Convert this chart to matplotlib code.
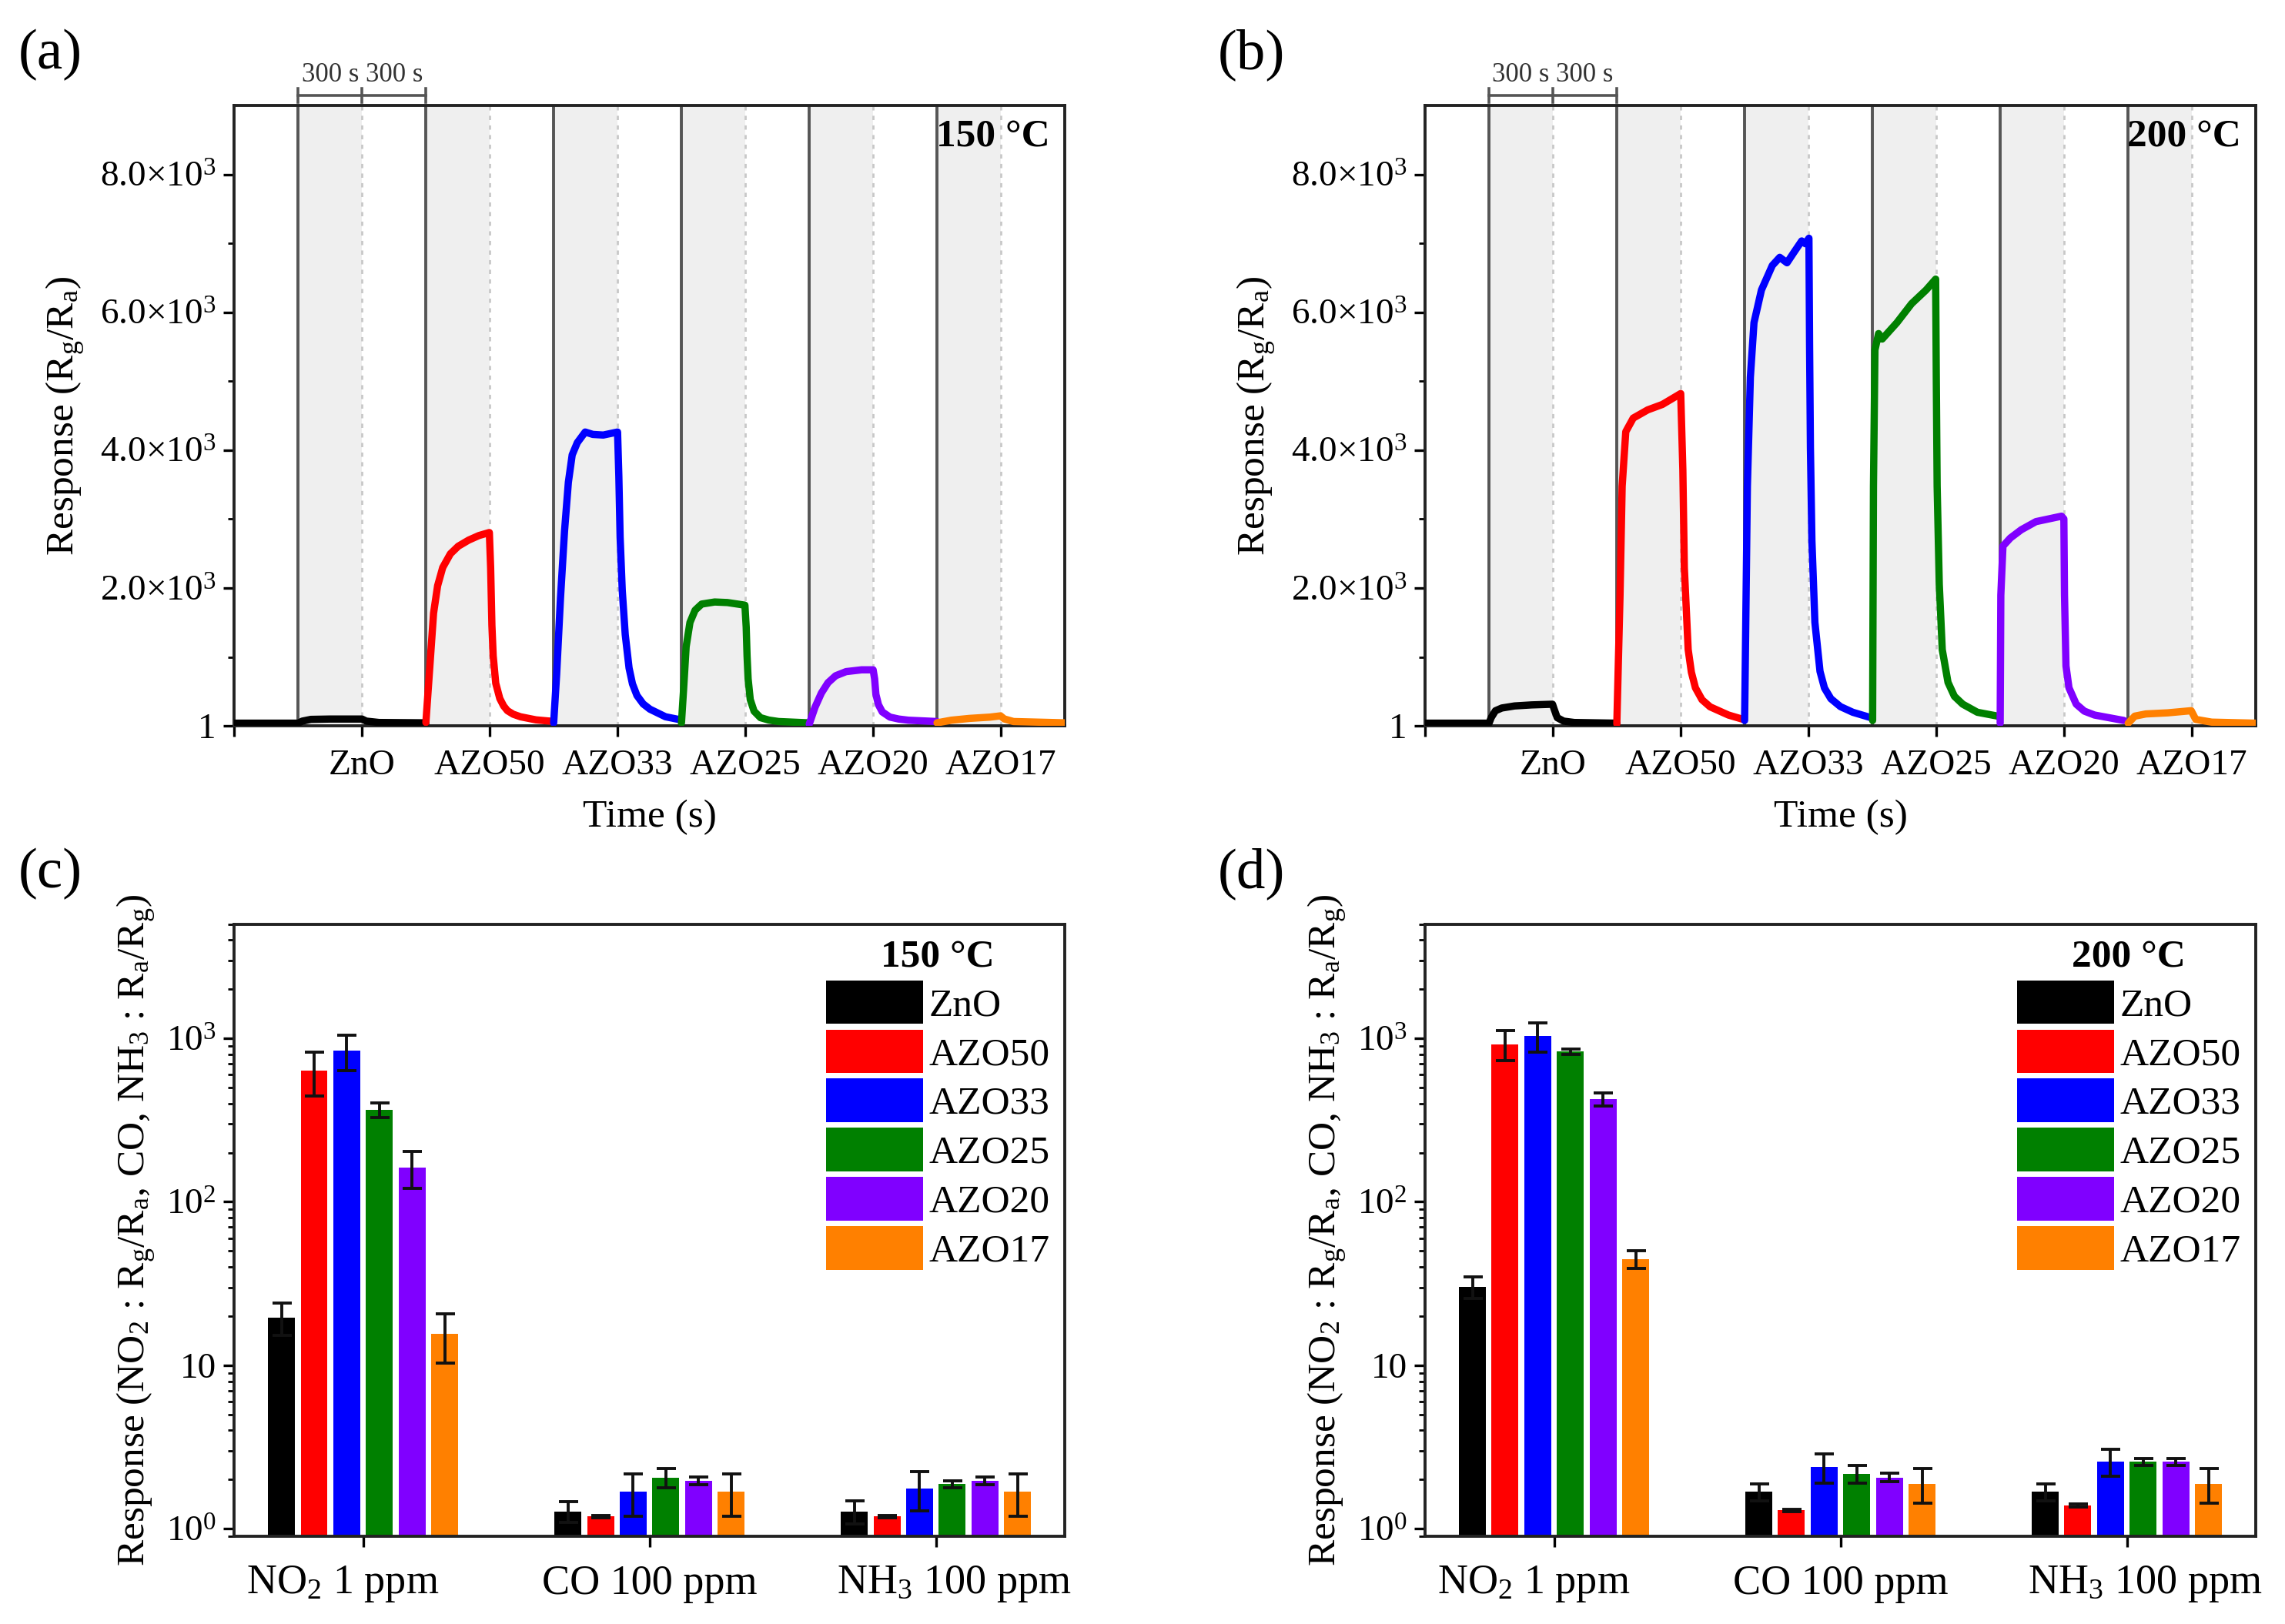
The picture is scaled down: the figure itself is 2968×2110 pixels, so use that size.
import math

import matplotlib
matplotlib.use("Agg")
import matplotlib.pyplot as plt
from matplotlib.ticker import FixedLocator, FuncFormatter, LogLocator, NullFormatter
from matplotlib.patches import Patch
from matplotlib.transforms import ScaledTranslation

plt.rcParams["font.family"] = ["Liberation Serif", "DejaVu Serif"]
plt.rcParams["mathtext.fontset"] = "custom"
plt.rcParams["mathtext.rm"] = "Liberation Serif"
plt.rcParams["mathtext.it"] = "Liberation Serif:italic"
plt.rcParams["mathtext.bf"] = "Liberation Serif:bold"

# ── data ──────────────────────────────────────────────────────────────────────
samples = ["ZnO", "AZO50", "AZO33", "AZO25", "AZO20", "AZO17"]
colors = ["#000000", "#ff0000", "#0000ff", "#008000", "#8000ff", "#ff8000"]
gases = [r"NO$_2$ 1 ppm", "CO 100 ppm", r"NH$_3$ 100 ppm"]
temps = ["150 °C", "200 °C"]

# dynamic response (time [s], Rg/Ra), 150 °C
curves_150 = {
    "ZnO": ([0, 300, 320, 360, 450, 600, 620, 680, 900],
            [40, 40, 70, 95, 100, 100, 70, 50, 45]),
    "AZO50": ([900, 918, 936, 955, 979, 1015, 1052, 1101, 1149, 1198, 1204, 1210,
               1216, 1228, 1247, 1265, 1283, 1310, 1344, 1417, 1496],
              [50, 840, 1635, 2033, 2298, 2497, 2607, 2696, 2762, 2806, 2298, 1458,
               1016, 619, 398, 290, 221, 170, 133, 88, 66]),
    "AZO33": ([1500, 1514, 1532, 1551, 1569, 1587, 1611, 1648, 1684, 1733, 1800, 1806,
               1812, 1822, 1836, 1854, 1870, 1891, 1920, 1952, 2025, 2097],
              [44, 751, 1856, 2828, 3535, 3933, 4110, 4264, 4229, 4220, 4264, 3624,
               2740, 1966, 1326, 840, 610, 442, 320, 243, 133, 88]),
    "AZO25": ([2100, 2110, 2122, 2140, 2164, 2195, 2256, 2316, 2398, 2404, 2408, 2413,
               2423, 2441, 2471, 2510, 2556, 2696],
              [44, 530, 1149, 1502, 1679, 1768, 1798, 1790, 1752, 1433, 1020, 683,
               383, 214, 120, 85, 64, 45]),
    "AZO20": ([2700, 2727, 2757, 2788, 2824, 2873, 2946, 3000, 3007, 3013, 3025, 3043,
               3079, 3120, 3165, 3299],
              [26, 270, 477, 627, 728, 788, 814, 814, 683, 458, 308, 203, 128, 100,
               83, 64]),
    "AZO17": ([3300, 3367, 3452, 3549, 3598, 3616, 3659, 3900],
              [45, 83, 109, 128, 146, 101, 64, 45]),
}

# dynamic response, 200 °C
curves_200 = {
    "ZnO": ([0, 300, 310, 330, 360, 420, 500, 598, 605, 620, 650, 700, 900],
            [40, 40, 120, 220, 260, 290, 305, 315, 250, 120, 70, 50, 40]),
    "AZO50": ([900, 915, 925, 942, 977, 1045, 1114, 1200, 1210, 1217, 1235, 1250,
               1269, 1300, 1338, 1424, 1493],
              [30, 1897, 3478, 4269, 4466, 4585, 4664, 4822, 3715, 2292, 1107, 780,
               553, 380, 277, 158, 95]),
    "AZO33": ([1500, 1513, 1527, 1544, 1579, 1630, 1665, 1699, 1733, 1768, 1785, 1802,
               1805, 1809, 1816, 1830, 1854, 1875, 1905, 1950, 2008, 2094],
              [79, 3478, 5059, 5850, 6324, 6680, 6798, 6719, 6877, 7036, 6996, 7075,
               5534, 4032, 2688, 1502, 791, 550, 395, 280, 198, 119]),
    "AZO25": ([2101, 2105, 2112, 2129, 2146, 2215, 2284, 2352, 2397, 2400, 2404, 2414,
               2428, 2455, 2485, 2524, 2593, 2689],
              [79, 3478, 5455, 5692, 5613, 5850, 6126, 6324, 6482, 5059, 3478, 2055,
               1107, 632, 430, 316, 198, 142]),
    "AZO20": ([2700, 2703, 2713, 2748, 2799, 2868, 2988, 2999, 3002, 3009, 3023, 3057,
               3095, 3143, 3281],
              [40, 1897, 2609, 2727, 2846, 2964, 3043, 3004, 1897, 870, 553, 316, 215,
               158, 79]),
    "AZO17": ([3301, 3332, 3384, 3487, 3597, 3618, 3693, 3900],
              [40, 142, 174, 190, 221, 95, 55, 40]),
}

# mean response and error per gas, order follows `samples`
no2_150 = [19.6, 634, 839, 365, 162, 15.5]
no2_150_err = [4.4, 190, 205, 36, 41, 5.2]
co_150 = [1.28, 1.19, 1.68, 2.06, 1.97, 1.68]
co_150_err = [0.19, 0.02, 0.48, 0.27, 0.10, 0.48]
nh3_150 = [1.28, 1.19, 1.77, 1.88, 1.97, 1.68]
nh3_150_err = [0.21, 0.02, 0.48, 0.09, 0.10, 0.48]

no2_200 = [30.2, 920, 1029, 828, 426, 44.7]
no2_200_err = [4.6, 190, 210, 35, 40, 5.5]
co_200 = [1.68, 1.30, 2.38, 2.17, 2.06, 1.88]
co_200_err = [0.20, 0.02, 0.48, 0.27, 0.12, 0.45]
nh3_200 = [1.68, 1.39, 2.57, 2.57, 2.57, 1.88]
nh3_200_err = [0.20, 0.03, 0.48, 0.12, 0.12, 0.45]

gas_on = [300, 900, 1500, 2100, 2700, 3300]     # gas in [s]
gas_off = [600, 1200, 1800, 2400, 3000, 3600]   # gas out [s]
t_end = 3900

FS = 17       # tick labels
FL = 18.5     # axis labels / legend
fig = plt.figure(figsize=(14.84, 10.55), dpi=200)


def style(ax):
    for sp in ax.spines.values():
        sp.set_linewidth(1.4)
        sp.set_color("#222222")
    ax.tick_params(which="major", direction="out", length=5, width=1.2,
                   labelsize=FS, top=False, right=False)
    ax.tick_params(which="minor", direction="out", length=3, width=1.0,
                   top=False, right=False)


# ── dynamic response panels ───────────────────────────────────────────────────
def y_fmt(v, _):
    if v < 10:
        return "1"
    return r"$\mathregular{%.1f{\times}10^{3}}$" % (v / 1000)


def dynamic_panel(rect, curves, temp):
    ax = fig.add_axes(rect)
    for on, off in zip(gas_on, gas_off):
        ax.axvspan(on, off, color="#efefef", lw=0, zorder=0)
        ax.axvline(on, color="#555555", lw=1.4, zorder=1)
        ax.axvline(off, color="#c8c8c8", lw=1.0, ls=(0, (2, 2.5)), zorder=1)
    for name, c in zip(samples, colors):
        t, r = curves[name]
        ax.plot(t, r, "-", color=c, lw=3.4, solid_capstyle="round",
                solid_joinstyle="round", zorder=3)
    ax.set_xlim(0, t_end)
    ax.set_ylim(0, 9000)
    ax.yaxis.set_major_locator(FixedLocator([1, 2000, 4000, 6000, 8000]))
    ax.yaxis.set_minor_locator(FixedLocator([1000, 3000, 5000, 7000]))
    ax.yaxis.set_major_formatter(FuncFormatter(y_fmt))
    ax.set_xticks([0] + gas_off)
    ax.set_xticklabels([""] + samples)
    ax.set_xlabel("Time (s)", fontsize=FL, labelpad=8)
    ax.set_ylabel(r"Response ($\mathregular{R_g/R_a}$)", fontsize=FL, labelpad=6)
    ax.text(0.982, 0.95, temp, transform=ax.transAxes, ha="right", va="center",
            fontsize=FL, fontweight="bold")
    # 300 s / 300 s bracket above the first exposure
    tr = ax.get_xaxis_transform()
    ax.plot([gas_on[0], gas_on[1]], [1.016, 1.016], color="#555555", lw=1.3,
            transform=tr, clip_on=False)
    for x in (gas_on[0], gas_off[0], gas_on[1]):
        ax.plot([x, x], [1.005, 1.027], color="#555555", lw=1.3, transform=tr,
                clip_on=False)
    for x0, x1 in ((gas_on[0], gas_off[0]), (gas_off[0], gas_on[1])):
        ax.text((x0 + x1) / 2, 1.029, "300 s", transform=tr, ha="center",
                va="bottom", fontsize=12.5, color="#333333")
    style(ax)
    ax.tick_params(axis="x", pad=6)
    return ax


# ── bar panels ────────────────────────────────────────────────────────────────
def log_fmt(v, _):
    if abs(v - 10) < 1e-6:
        return "10"
    return r"$\mathregular{10^{%d}}$" % round(math.log10(v))


def bar_panel(rect, vals, errs, temp):
    ax = fig.add_axes(rect)
    pitch, width = 0.114, 0.094
    xs = range(len(gases))
    for i, (name, c) in enumerate(zip(samples, colors)):
        off = (i - 2.5) * pitch
        h = [v[i] for v in vals]
        e = [v[i] for v in errs]
        ax.bar([g + off for g in xs], h, width=width, color=c, zorder=2)
        ax.errorbar([g + off for g in xs], h, yerr=e, fmt="none",
                    ecolor="#111111", elinewidth=1.4, capsize=4.5, capthick=1.4,
                    zorder=3)
    ax.set_yscale("log")
    ax.set_ylim(0.9, 5000)
    ax.set_xlim(-0.45, len(gases) - 0.55)
    ax.yaxis.set_major_locator(FixedLocator([1, 10, 100, 1000]))
    ax.yaxis.set_major_formatter(FuncFormatter(log_fmt))
    ax.yaxis.set_minor_locator(LogLocator(base=10, subs=range(2, 10)))
    ax.yaxis.set_minor_formatter(NullFormatter())
    ax.set_xticks(list(xs))
    ax.set_xticklabels(gases)
    ax.set_ylabel(r"Response ($\mathregular{NO_2}$ : $\mathregular{R_g/R_a}$, CO, "
                  r"$\mathregular{NH_3}$ : $\mathregular{R_a/R_g}$)",
                  fontsize=FL, labelpad=4)
    style(ax)
    ax.tick_params(axis="x", labelsize=FL + 1, pad=8)
    # first / last category labels sit slightly off their ticks in the original
    for lbl, dx in zip(ax.get_xticklabels(), (-0.13, 0.0, 0.12)):
        lbl.set_transform(lbl.get_transform()
                          + ScaledTranslation(dx, 0, fig.dpi_scale_trans))
    handles = [Patch(facecolor=c, edgecolor="none") for c in colors]
    ax.legend(handles, samples, title=temp, loc="upper right",
              bbox_to_anchor=(0.982, 0.975), frameon=False, fontsize=FL,
              title_fontproperties={"weight": "bold", "size": FL},
              handlelength=2.45, handleheight=1.32, labelspacing=0.14,
              handletextpad=0.15, borderpad=0, borderaxespad=0)
    return ax


W, H = 0.3635, 0.382
dynamic_panel([0.1025, 0.553, W, H], curves_150, temps[0])
dynamic_panel([0.6237, 0.553, W, H], curves_200, temps[1])
bar_panel([0.1025, 0.054, W, 0.377], [no2_150, co_150, nh3_150],
          [no2_150_err, co_150_err, nh3_150_err], temps[0])
bar_panel([0.6237, 0.054, W, 0.377], [no2_200, co_200, nh3_200],
          [no2_200_err, co_200_err, nh3_200_err], temps[1])

for lab, x, y in (("(a)", 0.008, 0.966), ("(b)", 0.533, 0.966),
                  ("(c)", 0.008, 0.462), ("(d)", 0.533, 0.462)):
    fig.text(x, y, lab, fontsize=27, va="center", ha="left")

fig.savefig("out.png", dpi=200)
